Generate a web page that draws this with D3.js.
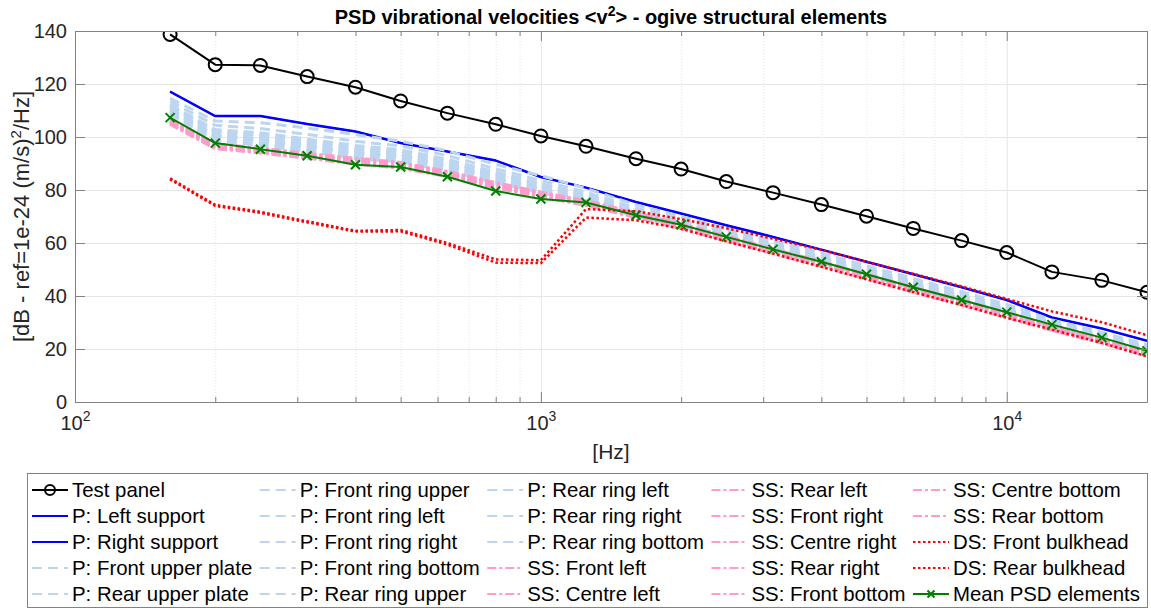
<!DOCTYPE html>
<html>
<head>
<meta charset="utf-8">
<script src="https://cdn.jsdelivr.net/npm/d3@7/dist/d3.min.js"></script>
<style>
  html, body { margin: 0; padding: 0; background: #fff; }
  svg text { font-family: "Liberation Sans", Arial, sans-serif; }
</style>
</head>
<body>
<svg id="chart" width="1151" height="611"></svg>
<script>
// Third-octave band centre frequencies [Hz]
const freqs = [160, 200, 250, 315, 400, 500, 630, 800, 1000, 1250, 1600, 2000,
               2500, 3150, 4000, 5000, 6300, 8000, 10000, 12500, 16000, 20000];

// PSD levels [dB re 1e-24 (m/s)^2/Hz]
const testPanel = [138.7, 127.3, 127.0, 122.8, 118.8, 113.6, 109.0, 104.8, 100.4, 96.5, 91.8, 87.9,
                   83.2, 79.0, 74.5, 70.1, 65.5, 60.9, 56.4, 49.1, 45.9, 41.4];

const pLeftSupport  = [117.2, 108.0, 108.0, 105.0, 102.2, 97.8, 94.6, 91.2, 85.0, 81.0, 75.6, 71.2,
                       66.8, 62.4, 57.6, 53.0, 48.3, 43.4, 38.6, 32.0, 27.8, 23.2];
const pRightSupport = [117.0, 107.8, 107.8, 104.8, 102.0, 97.6, 94.4, 91.0, 84.8, 80.8, 75.4, 71.0,
                       66.6, 62.2, 57.4, 52.8, 48.1, 43.2, 38.4, 31.8, 27.6, 23.0];

const pFrontUpperPlate = [114.6, 106.0, 105.4, 103.4, 100.9, 98.4, 94.8, 89.6, 85.4, 80.6, 74.4, 70.0,
                          65.4, 60.8, 56.2, 51.4, 46.6, 41.6, 36.8, 31.0, 26.2, 21.6];
const pRearUpperPlate  = [113.4, 104.4, 103.2, 101.0, 98.4, 96.6, 93.0, 88.0, 83.6, 79.2, 73.2, 69.0,
                          64.4, 59.8, 55.2, 50.4, 45.6, 40.8, 35.8, 30.2, 25.6, 21.0];
const pFrontRingUpper  = [112.2, 102.8, 101.6, 99.2, 96.8, 95.2, 91.6, 86.8, 82.4, 78.2, 72.4, 68.4,
                          63.8, 59.2, 54.6, 49.8, 45.0, 40.2, 35.2, 29.6, 25.0, 20.6];
const pFrontRingLeft   = [111.4, 101.8, 100.4, 98.0, 95.4, 94.0, 90.4, 85.8, 81.6, 77.4, 71.8, 67.8,
                          63.2, 58.6, 54.0, 49.2, 44.4, 39.6, 34.8, 29.2, 24.6, 20.2];
const pFrontRingRight  = [110.6, 100.8, 99.4, 97.0, 94.4, 93.0, 89.6, 85.0, 80.8, 76.8, 71.2, 67.4,
                          62.8, 58.2, 53.6, 48.8, 44.0, 39.2, 34.4, 28.8, 24.2, 19.8];
const pFrontRingBottom = [109.8, 100.0, 98.4, 96.0, 93.4, 92.2, 88.8, 84.2, 80.2, 76.2, 70.8, 67.0,
                          62.4, 57.8, 53.2, 48.4, 43.6, 38.8, 34.0, 28.4, 23.8, 19.4];
const pRearRingUpper   = [109.2, 99.2, 97.6, 95.2, 92.6, 91.4, 88.0, 83.4, 79.6, 75.8, 70.4, 66.6,
                          62.0, 57.4, 52.8, 48.0, 43.2, 38.4, 33.6, 28.2, 23.4, 19.0];
const pRearRingLeft    = [108.6, 98.6, 96.8, 94.6, 91.8, 90.6, 87.2, 82.6, 79.0, 75.4, 70.0, 66.2,
                          61.6, 57.0, 52.4, 47.6, 42.8, 38.0, 33.2, 27.8, 23.0, 18.6];
const pRearRingRight   = [110.0, 100.6, 99.0, 96.6, 94.0, 92.8, 89.2, 84.6, 80.4, 76.6, 71.0, 67.2,
                          62.6, 58.0, 53.4, 48.6, 43.8, 39.0, 34.2, 28.6, 24.0, 19.6];
const pRearRingBottom  = [111.8, 102.2, 100.8, 98.4, 95.8, 94.4, 90.8, 86.2, 82.0, 77.8, 72.0, 68.0,
                          63.4, 58.8, 54.2, 49.4, 44.6, 39.8, 35.0, 29.4, 24.8, 20.4];

const ssFrontLeft   = [106.4, 97.2, 95.6, 93.6, 91.8, 90.2, 86.8, 82.6, 79.0, 75.8, 71.2, 67.0,
                       62.4, 57.6, 52.8, 48.0, 43.0, 38.2, 33.4, 28.6, 23.8, 18.8];
const ssCentreLeft  = [105.8, 96.6, 95.0, 93.0, 91.0, 89.4, 86.2, 81.8, 78.4, 75.2, 70.6, 66.4,
                       61.8, 57.0, 52.2, 47.4, 42.4, 37.6, 32.8, 28.0, 23.2, 18.2];
const ssRearLeft    = [105.2, 96.0, 94.4, 92.4, 90.4, 88.8, 85.6, 81.2, 77.8, 74.6, 70.0, 65.8,
                       61.2, 56.4, 51.6, 46.8, 41.8, 37.0, 32.2, 27.4, 22.6, 17.6];
const ssFrontRight  = [106.0, 96.8, 95.2, 93.2, 91.4, 89.8, 86.6, 82.2, 78.8, 75.6, 70.9, 66.7,
                       62.1, 57.3, 52.5, 47.7, 42.7, 37.9, 33.1, 28.3, 23.5, 18.5];
const ssCentreRight = [104.8, 95.6, 94.0, 92.0, 89.8, 88.2, 85.2, 80.8, 77.4, 74.2, 69.6, 65.4,
                       60.8, 56.0, 51.2, 46.4, 41.4, 36.6, 31.8, 27.0, 22.2, 17.4];
const ssRearRight   = [105.5, 96.3, 94.7, 92.7, 90.7, 89.1, 85.9, 81.5, 78.1, 74.9, 70.3, 66.1,
                       61.5, 56.7, 51.9, 47.1, 42.1, 37.3, 32.5, 27.7, 22.9, 17.9];
const ssFrontBottom = [106.6, 97.4, 95.8, 93.8, 92.0, 90.4, 87.0, 82.8, 79.2, 76.0, 71.4, 67.2,
                       62.6, 57.8, 53.0, 48.2, 43.2, 38.4, 33.6, 28.8, 24.0, 19.0];
const ssCentreBottom= [105.0, 95.8, 94.2, 92.2, 90.0, 88.5, 85.4, 81.0, 77.6, 74.4, 69.8, 65.6,
                       61.0, 56.2, 51.4, 46.6, 41.6, 36.8, 32.0, 27.2, 22.4, 17.5];
const ssRearBottom  = [105.6, 96.4, 94.8, 92.8, 90.8, 89.2, 86.0, 81.6, 78.2, 75.0, 70.4, 66.2,
                       61.6, 56.8, 52.0, 47.2, 42.2, 37.4, 32.6, 27.8, 23.0, 18.0];

const dsFrontBulkhead = [84.4, 74.4, 71.8, 68.2, 64.6, 64.9, 60.0, 53.8, 53.5, 72.8, 72.0, 69.0,
                         65.6, 61.6, 57.4, 52.9, 48.4, 43.6, 38.9, 34.2, 30.1, 25.2];
const dsRearBulkhead  = [84.0, 74.0, 71.4, 67.8, 64.3, 64.4, 59.4, 52.6, 52.4, 69.6, 68.6, 65.4,
                         60.6, 56.0, 51.0, 46.3, 41.5, 36.6, 31.8, 27.3, 22.3, 17.2];

const meanPSD = [107.3, 97.7, 95.4, 92.9, 89.5, 88.7, 85.0, 79.6, 76.6, 75.3, 70.5, 66.9,
                 62.3, 57.6, 52.9, 48.2, 43.3, 38.5, 33.9, 29.2, 24.3, 19.3];

// Axis settings
const xMajorTicks = [100, 1000, 10000];
const yTicks = [0, 20, 40, 60, 80, 100, 120, 140];

// Line styles per element group
const styles = {
  test:  { color: "#000000", width: 2,   dash: null,         marker: "o" },
  sup:   { color: "#0000ff", width: 2,   dash: null,         marker: null },
  plate: { color: "#bcd5f0", width: 3,   dash: "10,6",       marker: null },
  ss:    { color: "#ff9ccb", width: 3,   dash: "9,3,3,3",    marker: null },
  ds:    { color: "#ff0000", width: 2.5, dash: "2.5,2.5",    marker: null },
  mean:  { color: "#008000", width: 2,   dash: null,         marker: "x" }
};

const series = [
  { name: "Test panel", values: testPanel, s: styles.test },
  { name: "P: Left support", values: pLeftSupport, s: styles.sup },
  { name: "P: Right support", values: pRightSupport, s: styles.sup },
  { name: "P: Front upper plate", values: pFrontUpperPlate, s: styles.plate },
  { name: "P: Rear upper plate", values: pRearUpperPlate, s: styles.plate },
  { name: "P: Front ring upper", values: pFrontRingUpper, s: styles.plate },
  { name: "P: Front ring left", values: pFrontRingLeft, s: styles.plate },
  { name: "P: Front ring right", values: pFrontRingRight, s: styles.plate },
  { name: "P: Front ring bottom", values: pFrontRingBottom, s: styles.plate },
  { name: "P: Rear ring upper", values: pRearRingUpper, s: styles.plate },
  { name: "P: Rear ring left", values: pRearRingLeft, s: styles.plate },
  { name: "P: Rear ring right", values: pRearRingRight, s: styles.plate },
  { name: "P: Rear ring bottom", values: pRearRingBottom, s: styles.plate },
  { name: "SS: Front left", values: ssFrontLeft, s: styles.ss },
  { name: "SS: Centre left", values: ssCentreLeft, s: styles.ss },
  { name: "SS: Rear left", values: ssRearLeft, s: styles.ss },
  { name: "SS: Front right", values: ssFrontRight, s: styles.ss },
  { name: "SS: Centre right", values: ssCentreRight, s: styles.ss },
  { name: "SS: Rear right", values: ssRearRight, s: styles.ss },
  { name: "SS: Front bottom", values: ssFrontBottom, s: styles.ss },
  { name: "SS: Centre bottom", values: ssCentreBottom, s: styles.ss },
  { name: "SS: Rear bottom", values: ssRearBottom, s: styles.ss },
  { name: "DS: Front bulkhead", values: dsFrontBulkhead, s: styles.ds },
  { name: "DS: Rear bulkhead", values: dsRearBulkhead, s: styles.ds },
  { name: "Mean PSD elements", values: meanPSD, s: styles.mean }
];

const plot = { left: 75, right: 1147, top: 31, bottom: 402 };
const svg = d3.select("#chart");

const x = d3.scaleLog().domain([100, 20000]).range([plot.left, plot.right]);
const y = d3.scaleLinear().domain([0, 140]).range([plot.bottom, plot.top]);

// Minor decade ticks (2..9 x 10^n) inside the domain
const xMinorTicks = [];
for (let e = 2; e <= 4; e++) {
  for (let m = 2; m <= 9; m++) {
    const v = m * Math.pow(10, e);
    if (v <= 20000) xMinorTicks.push(v);
  }
}

const axisGray = "#828282";
const textGray = "#262626";
const H = plot.bottom - plot.top;
const W = plot.right - plot.left;

// Grid: minor verticals (dotted), major verticals and horizontals (solid)
const grid = svg.append("g");
grid.append("g")
  .attr("transform", `translate(0,${plot.bottom})`)
  .call(d3.axisBottom(x).tickValues(xMinorTicks).tickSize(-H).tickFormat(""))
  .call(g => g.select(".domain").remove())
  .call(g => g.selectAll("line").attr("stroke", "#e3e3e3").attr("stroke-width", 1).attr("stroke-dasharray", "1,2"));
grid.append("g")
  .attr("transform", `translate(0,${plot.bottom})`)
  .call(d3.axisBottom(x).tickValues(xMajorTicks).tickSize(-H).tickFormat(""))
  .call(g => g.select(".domain").remove())
  .call(g => g.selectAll("line").attr("stroke", "#e6e6e6").attr("stroke-width", 1));
grid.append("g")
  .attr("transform", `translate(${plot.left},0)`)
  .call(d3.axisLeft(y).tickValues(yTicks).tickSize(-W).tickFormat(""))
  .call(g => g.select(".domain").remove())
  .call(g => g.selectAll("line").attr("stroke", "#e6e6e6").attr("stroke-width", 1));

// Data lines
svg.append("clipPath").attr("id", "plotClip")
  .append("rect").attr("x", plot.left).attr("y", plot.top).attr("width", W).attr("height", H);

const lineGen = d3.line().x(d => x(d[0])).y(d => y(d[1]));
const dataLayer = svg.append("g").attr("clip-path", "url(#plotClip)");

series.forEach(sr => {
  const pts = freqs.map((f, i) => [f, sr.values[i]]);
  const g = dataLayer.append("g");
  g.append("path")
    .attr("d", lineGen(pts))
    .attr("fill", "none")
    .attr("stroke", sr.s.color)
    .attr("stroke-width", sr.s.width)
    .attr("stroke-linejoin", "round")
    .attr("stroke-dasharray", sr.s.dash);
  if (sr.s.marker === "o") {
    g.selectAll("circle").data(pts).join("circle")
      .attr("cx", d => x(d[0])).attr("cy", d => y(d[1])).attr("r", 6.5)
      .attr("fill", "none").attr("stroke", sr.s.color).attr("stroke-width", 2);
  } else if (sr.s.marker === "x") {
    const k = 4.5;
    g.selectAll("path.mk").data(pts).join("path").attr("class", "mk")
      .attr("d", d => {
        const cx = x(d[0]), cy = y(d[1]);
        return `M${cx - k},${cy - k}L${cx + k},${cy + k}M${cx - k},${cy + k}L${cx + k},${cy - k}`;
      })
      .attr("stroke", sr.s.color).attr("stroke-width", 2).attr("fill", "none");
  }
});

// Axes box with inward ticks on all four sides
const axes = svg.append("g");
function styleAxis(g) {
  g.select(".domain").attr("stroke", axisGray).attr("stroke-width", 1);
  g.selectAll(".tick line").attr("stroke", axisGray).attr("stroke-width", 1);
}
function supLabel(sel, base, exp) {
  sel.text(null);
  sel.append("tspan").text(base);
  sel.append("tspan").attr("dy", -9).attr("font-size", 14).text(exp);
}

// Bottom axis: major ticks with 10^n labels
const xBottom = axes.append("g").attr("transform", `translate(0,${plot.bottom})`)
  .call(d3.axisBottom(x).tickValues(xMajorTicks).tickSizeInner(-10).tickSizeOuter(0).tickPadding(14)
    .tickFormat(""));
styleAxis(xBottom);
xBottom.selectAll(".tick text")
  .attr("fill", textGray).attr("font-size", 20).attr("dy", "0.71em")
  .each(function(d) { supLabel(d3.select(this), "10", String(Math.round(Math.log10(d)))); });
axes.append("g").attr("transform", `translate(0,${plot.bottom})`)
  .call(d3.axisBottom(x).tickValues(xMinorTicks).tickSizeInner(-5).tickSizeOuter(0).tickFormat(""))
  .call(styleAxis).call(g => g.select(".domain").remove());

// Top axis
axes.append("g").attr("transform", `translate(0,${plot.top})`)
  .call(d3.axisTop(x).tickValues(xMajorTicks).tickSizeInner(-10).tickSizeOuter(0).tickFormat(""))
  .call(styleAxis);
axes.append("g").attr("transform", `translate(0,${plot.top})`)
  .call(d3.axisTop(x).tickValues(xMinorTicks).tickSizeInner(-5).tickSizeOuter(0).tickFormat(""))
  .call(styleAxis).call(g => g.select(".domain").remove());

// Left axis
const yLeft = axes.append("g").attr("transform", `translate(${plot.left},0)`)
  .call(d3.axisLeft(y).tickValues(yTicks).tickSizeInner(-10).tickSizeOuter(0).tickPadding(8));
styleAxis(yLeft);
yLeft.selectAll(".tick text").attr("fill", textGray).attr("font-size", 20);

// Right axis
axes.append("g").attr("transform", `translate(${plot.right},0)`)
  .call(d3.axisRight(y).tickValues(yTicks).tickSizeInner(-10).tickSizeOuter(0).tickFormat(""))
  .call(styleAxis);

// Title
const title = svg.append("text")
  .attr("x", (plot.left + plot.right) / 2).attr("y", 24)
  .attr("text-anchor", "middle").attr("font-size", 20).attr("font-weight", "bold").attr("fill", "#000");
title.append("tspan").text("PSD vibrational velocities <v");
title.append("tspan").attr("dy", -8).attr("font-size", 14).text("2");
title.append("tspan").attr("dy", 8).text("> - ogive structural elements");

// Axis labels
svg.append("text")
  .attr("x", (plot.left + plot.right) / 2).attr("y", 459)
  .attr("text-anchor", "middle").attr("font-size", 21).attr("fill", textGray)
  .text("[Hz]");

const yLab = svg.append("text")
  .attr("transform", `translate(29,${(plot.top + plot.bottom) / 2}) rotate(-90)`)
  .attr("text-anchor", "middle").attr("font-size", 22).attr("fill", textGray);
yLab.append("tspan").text("[dB - ref=1e-24 (m/s)");
yLab.append("tspan").attr("dy", -8).attr("font-size", 15).text("2");
yLab.append("tspan").attr("dy", 8).text("/Hz]");

// Legend: 5 rows filled column by column; column widths follow the longest entry
const legend = svg.append("g");
const lg = { x0: 27, y0: 473, x1: 1147, y1: 607 };
legend.append("rect")
  .attr("x", lg.x0 + 0.5).attr("y", lg.y0 + 0.5)
  .attr("width", lg.x1 - lg.x0).attr("height", lg.y1 - lg.y0)
  .attr("fill", "#fff").attr("stroke", axisGray).attr("stroke-width", 1);

const legendFont = 20.4;
const nRows = 5;
const rowY = [490, 516, 542, 568, 594];
const firstTextX = 72, lastTextEnd = 1140;

// measure entry labels
const probe = legend.append("text").attr("font-size", legendFont).attr("visibility", "hidden");
const textW = series.map(sr => { probe.text(sr.name); return probe.node().getComputedTextLength(); });
probe.remove();
const nCols = Math.ceil(series.length / nRows);
const colW = d3.range(nCols).map(c => d3.max(textW.slice(c * nRows, (c + 1) * nRows)));
const step = (lastTextEnd - firstTextX - d3.sum(colW)) / (nCols - 1);
const colTextX = [firstTextX];
for (let c = 1; c < nCols; c++) colTextX.push(colTextX[c - 1] + colW[c - 1] + step);

series.forEach((sr, i) => {
  const col = Math.floor(i / nRows), row = i % nRows;
  const tx = colTextX[col], cy = rowY[row];
  const x1 = tx - 40, x2 = tx - 4;
  const item = legend.append("g");
  item.append("line")
    .attr("x1", x1).attr("x2", x2).attr("y1", cy).attr("y2", cy)
    .attr("stroke", sr.s.color).attr("stroke-width", Math.min(sr.s.width, 2))
    .attr("stroke-dasharray", sr.s.dash);
  const mx = (x1 + x2) / 2;
  if (sr.s.marker === "o") {
    item.append("circle").attr("cx", mx).attr("cy", cy).attr("r", 5)
      .attr("fill", "none").attr("stroke", sr.s.color).attr("stroke-width", 2);
  } else if (sr.s.marker === "x") {
    const k = 3.5;
    item.append("path")
      .attr("d", `M${mx - k},${cy - k}L${mx + k},${cy + k}M${mx - k},${cy + k}L${mx + k},${cy - k}`)
      .attr("stroke", sr.s.color).attr("stroke-width", 2);
  }
  item.append("text")
    .attr("x", tx).attr("y", cy).attr("dy", "0.35em")
    .attr("font-size", legendFont).attr("fill", "#000")
    .text(sr.name);
});
</script>
</body>
</html>
